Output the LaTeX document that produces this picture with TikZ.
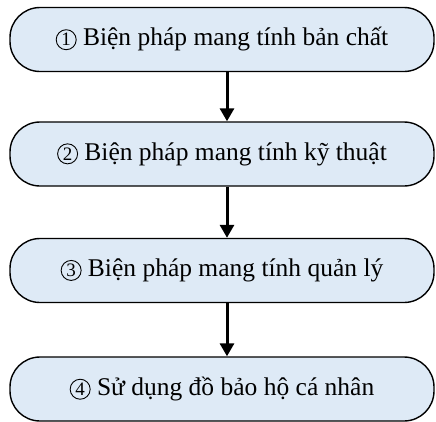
\documentclass[tikz,border=0pt]{standalone}
\usepackage{fontspec}
\setmainfont{Liberation Serif}
\usetikzlibrary{arrows.meta}
\definecolor{boxblue}{HTML}{DEEAF6}
\tikzset{
    mybox/.style={
        draw,
        line width=1.4pt,
        fill=boxblue,
        rounded corners=30pt,
        minimum width=424pt,
        minimum height=64pt,
        inner sep=0,
        font=\fontsize{25.5}{30}\selectfont,
    },
    flow/.style={
        line width=3pt,
        -{Triangle[width=14pt,length=13pt]},
    },
    numcirc/.style={
        circle,
        draw,
        line width=0.9pt,
        inner sep=0pt,
        minimum size=20pt,
        font=\fontsize{19}{19}\selectfont,
    },
}
\newcommand{\circnum}[1]{\tikz[baseline=(n.base)]\node[numcirc] (n) {#1};}

\begin{document}
\begin{tikzpicture}[x=1pt,y=1pt]
    \useasboundingbox (0,0) rectangle (436,-421);

    \node[mybox] at (222, -39.5) (B1) {\circnum{1} Biện pháp mang tính bản chất} ;
    \node[mybox] at (222, -154) (B2) {\circnum{2} Biện pháp mang tính kỹ thuật} ;
    \node[mybox] at (222, -270.5) (B3) {\circnum{3} Biện pháp mang tính quản lý} ;
    \node[mybox] at (222, -389) (B4) {\circnum{4} Sử dụng đồ bảo hộ cá nhân} ;

    \draw[flow] ([xshift=5pt]B1.south) -- ([xshift=5pt]B2.north) ;
    \draw[flow] ([xshift=5pt]B2.south) -- ([xshift=5pt]B3.north) ;
    \draw[flow] ([xshift=5pt]B3.south) -- ([xshift=5pt]B4.north) ;
\end{tikzpicture}
\end{document}
